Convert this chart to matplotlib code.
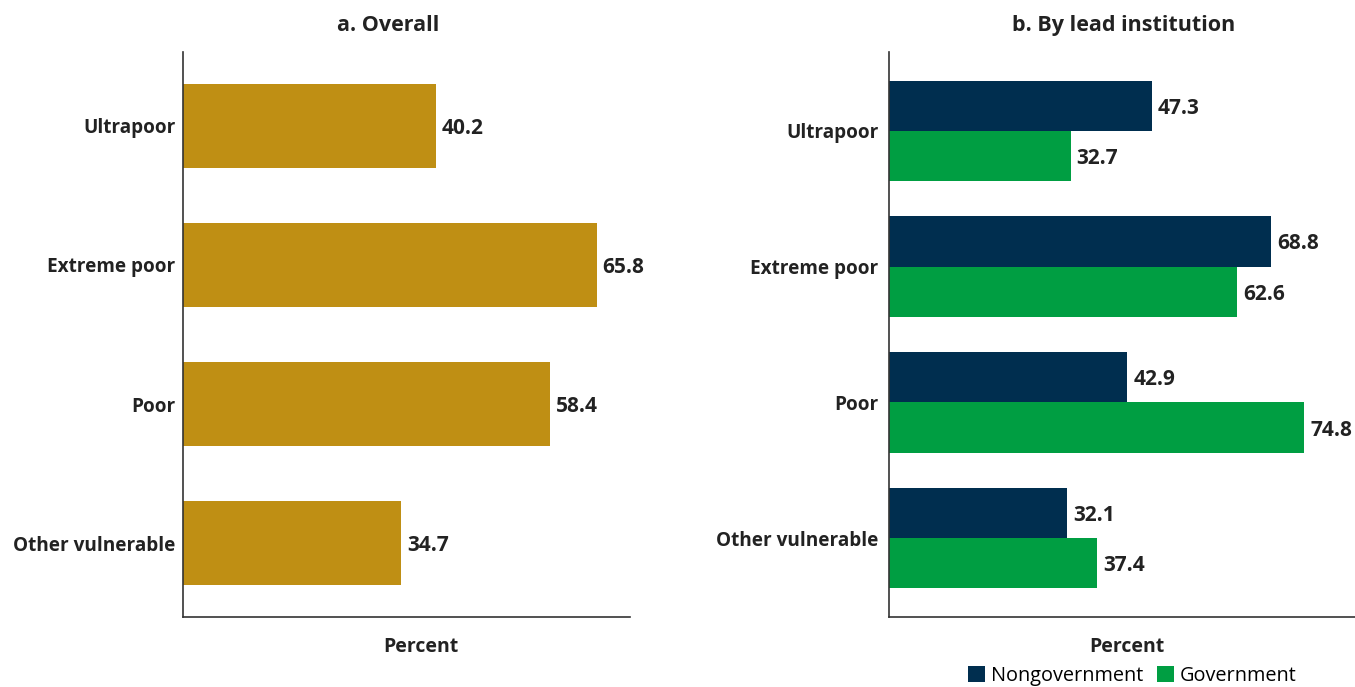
import matplotlib
matplotlib.use('Agg')
import matplotlib.pyplot as plt
from matplotlib.patches import Patch
import numpy as np

plt.rcParams['font.family'] = ['Open Sans', 'DejaVu Sans']

categories = ['Ultrapoor', 'Extreme poor', 'Poor', 'Other vulnerable']
overall = [40.2, 65.8, 58.4, 34.7]
nongov = [47.3, 68.8, 42.9, 32.1]
gov = [32.7, 62.6, 74.8, 37.4]

gold = '#BF8F14'
navy = '#002E4F'
green = '#009E42'
txt = '#222222'

fig = plt.figure(figsize=(13.55, 6.87), dpi=100)
W, H = 1355, 687
ax1 = fig.add_axes([183 / W, 1 - 617 / H, (630 - 183) / W, (617 - 52) / H])
ax2 = fig.add_axes([889 / W, 1 - 617 / H, (1360 - 889) / W, (617 - 52) / H])

y = np.arange(len(categories))
vfs = 15

# a. Overall
ax1.barh(y, overall, height=0.6, color=gold)
for yi, v in zip(y, overall):
    ax1.text(v + 0.9, yi, f'{v:.1f}', va='center_baseline', ha='left',
             fontsize=vfs, fontweight='bold', color=txt)
ax1.set_xlim(0, 71.1)
ax1.set_ylim(3.53, -0.53)
ax1.set_title('a. Overall', fontsize=15.5, fontweight='bold', color=txt,
              pad=15, x=(388 - 183) / (630 - 183))

# b. By lead institution
h = 0.37
ax2.barh(y - h / 2, nongov, height=h, color=navy)
ax2.barh(y + h / 2, gov, height=h, color=green)
for yi, v in zip(y, nongov):
    ax2.text(v + 1.1, yi - h / 2, f'{v:.1f}', va='center_baseline', ha='left',
             fontsize=vfs, fontweight='bold', color=txt)
for yi, v in zip(y, gov):
    ax2.text(v + 1.1, yi + h / 2, f'{v:.1f}', va='center_baseline', ha='left',
             fontsize=vfs, fontweight='bold', color=txt)
ax2.set_xlim(0, 84.8)
ax2.set_ylim(3.58, -0.58)
ax2.set_title('b. By lead institution', fontsize=15.5, fontweight='bold',
              color=txt, pad=15, x=(1124 - 889) / (1360 - 889))

for ax, p in ((ax1, 5.5), (ax2, 7.5)):
    ax.set_yticks(y)
    ax.set_yticklabels(categories, fontsize=13.7, fontweight='bold', color=txt)
    ax.tick_params(axis='y', length=0, pad=p)
    ax.set_xticks([])
    ax.set_xlabel('Percent', fontsize=14, fontweight='bold', color=txt)
    for s in ('top', 'right'):
        ax.spines[s].set_visible(False)
    for s in ('left', 'bottom'):
        ax.spines[s].set_color('#333333')
        ax.spines[s].set_linewidth(1.2)

ax1.xaxis.set_label_coords((421 - 183) / (630 - 183), -0.036)
ax2.xaxis.set_label_coords((1127 - 889) / (1360 - 889), -0.036)

handles = [Patch(facecolor=navy, label='Nongovernment'),
           Patch(facecolor=green, label='Government')]
fig.legend(handles=handles, loc='lower center', bbox_to_anchor=(1132 / W, 1 / H),
           ncol=2, frameon=False, fontsize=14.3, handlelength=0.85, handleheight=0.85,
           handletextpad=0.3, columnspacing=0.7, borderaxespad=0, borderpad=0)

fig.savefig('out.png', dpi=100)
